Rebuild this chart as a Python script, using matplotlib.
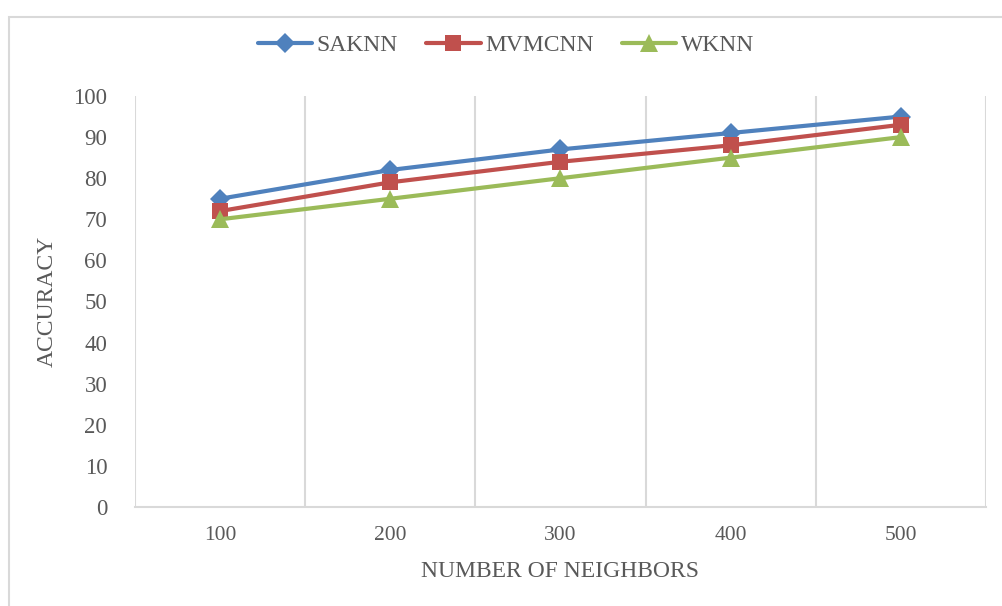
import matplotlib
matplotlib.use("Agg")
import matplotlib.pyplot as plt
from matplotlib.patches import Rectangle
import numpy as np

# data
neighbors = ["100", "200", "300", "400", "500"]
saknn = [75, 82, 87, 91, 95]
mvmcnn = [72, 79, 84, 88, 93]
wknn = [70, 75, 80, 85, 90]
y_ticks = [0, 10, 20, 30, 40, 50, 60, 70, 80, 90, 100]

plt.rcParams["font.family"] = ["Liberation Serif", "DejaVu Serif"]
text_color = "#595959"
grid_color = "#D9D9D9"

fig = plt.figure(figsize=(10.03, 6.06), dpi=100)
ax = fig.add_axes([135 / 1003, 1 - 507 / 606, (986 - 135) / 1003, (507 - 96) / 606])

x = np.arange(1, len(neighbors) + 1)
series = [
    ("SAKNN", saknn, "#4F81BD", "D", 10),
    ("MVMCNN", mvmcnn, "#C0504D", "s", 12),
    ("WKNN", wknn, "#9BBB59", "^", 13),
]
for name, vals, color, marker, ms in series:
    ax.plot(x, vals, color=color, lw=3, marker=marker, markersize=ms,
            markeredgewidth=0, label=name, solid_capstyle="round")

ax.set_xlim(0.5, len(neighbors) + 0.5)
ax.set_ylim(0, 100)
ax.set_yticks(y_ticks)
ax.set_xticks(x)
ax.set_xticklabels(neighbors)
ax.set_xticks(np.arange(0.5, len(neighbors) + 1), minor=True)
ax.grid(which="minor", axis="x", color=grid_color, lw=1.5)
ax.tick_params(which="both", length=0)
ax.tick_params(axis="y", labelsize=16.5, labelcolor=text_color, pad=20)
ax.tick_params(axis="x", labelsize=15.5, labelcolor=text_color, pad=14)

for side in ["top", "right", "left"]:
    ax.spines[side].set_visible(False)
ax.spines["bottom"].set_color(grid_color)
ax.spines["bottom"].set_linewidth(1.5)

ax.set_xlabel("NUMBER OF NEIGHBORS", fontsize=17, color=text_color, labelpad=11)
ax.set_ylabel("ACCURACY", fontsize=17, color=text_color, labelpad=11)

fig.legend(loc="center", bbox_to_anchor=(506 / 1003, 1 - 45 / 606), ncol=3,
           frameon=False, fontsize=17, handlelength=2.3, handletextpad=0.2,
           columnspacing=1.2, labelcolor=text_color)

# chart frame (only top and left edges visible in the crop)
fig.add_artist(Rectangle((9 / 1003, -0.1), 1.2, 1 - 16.5 / 606 + 0.1,
                         transform=fig.transFigure, fill=False,
                         edgecolor=grid_color, lw=1.5))

fig.savefig("out.png", dpi=100)
